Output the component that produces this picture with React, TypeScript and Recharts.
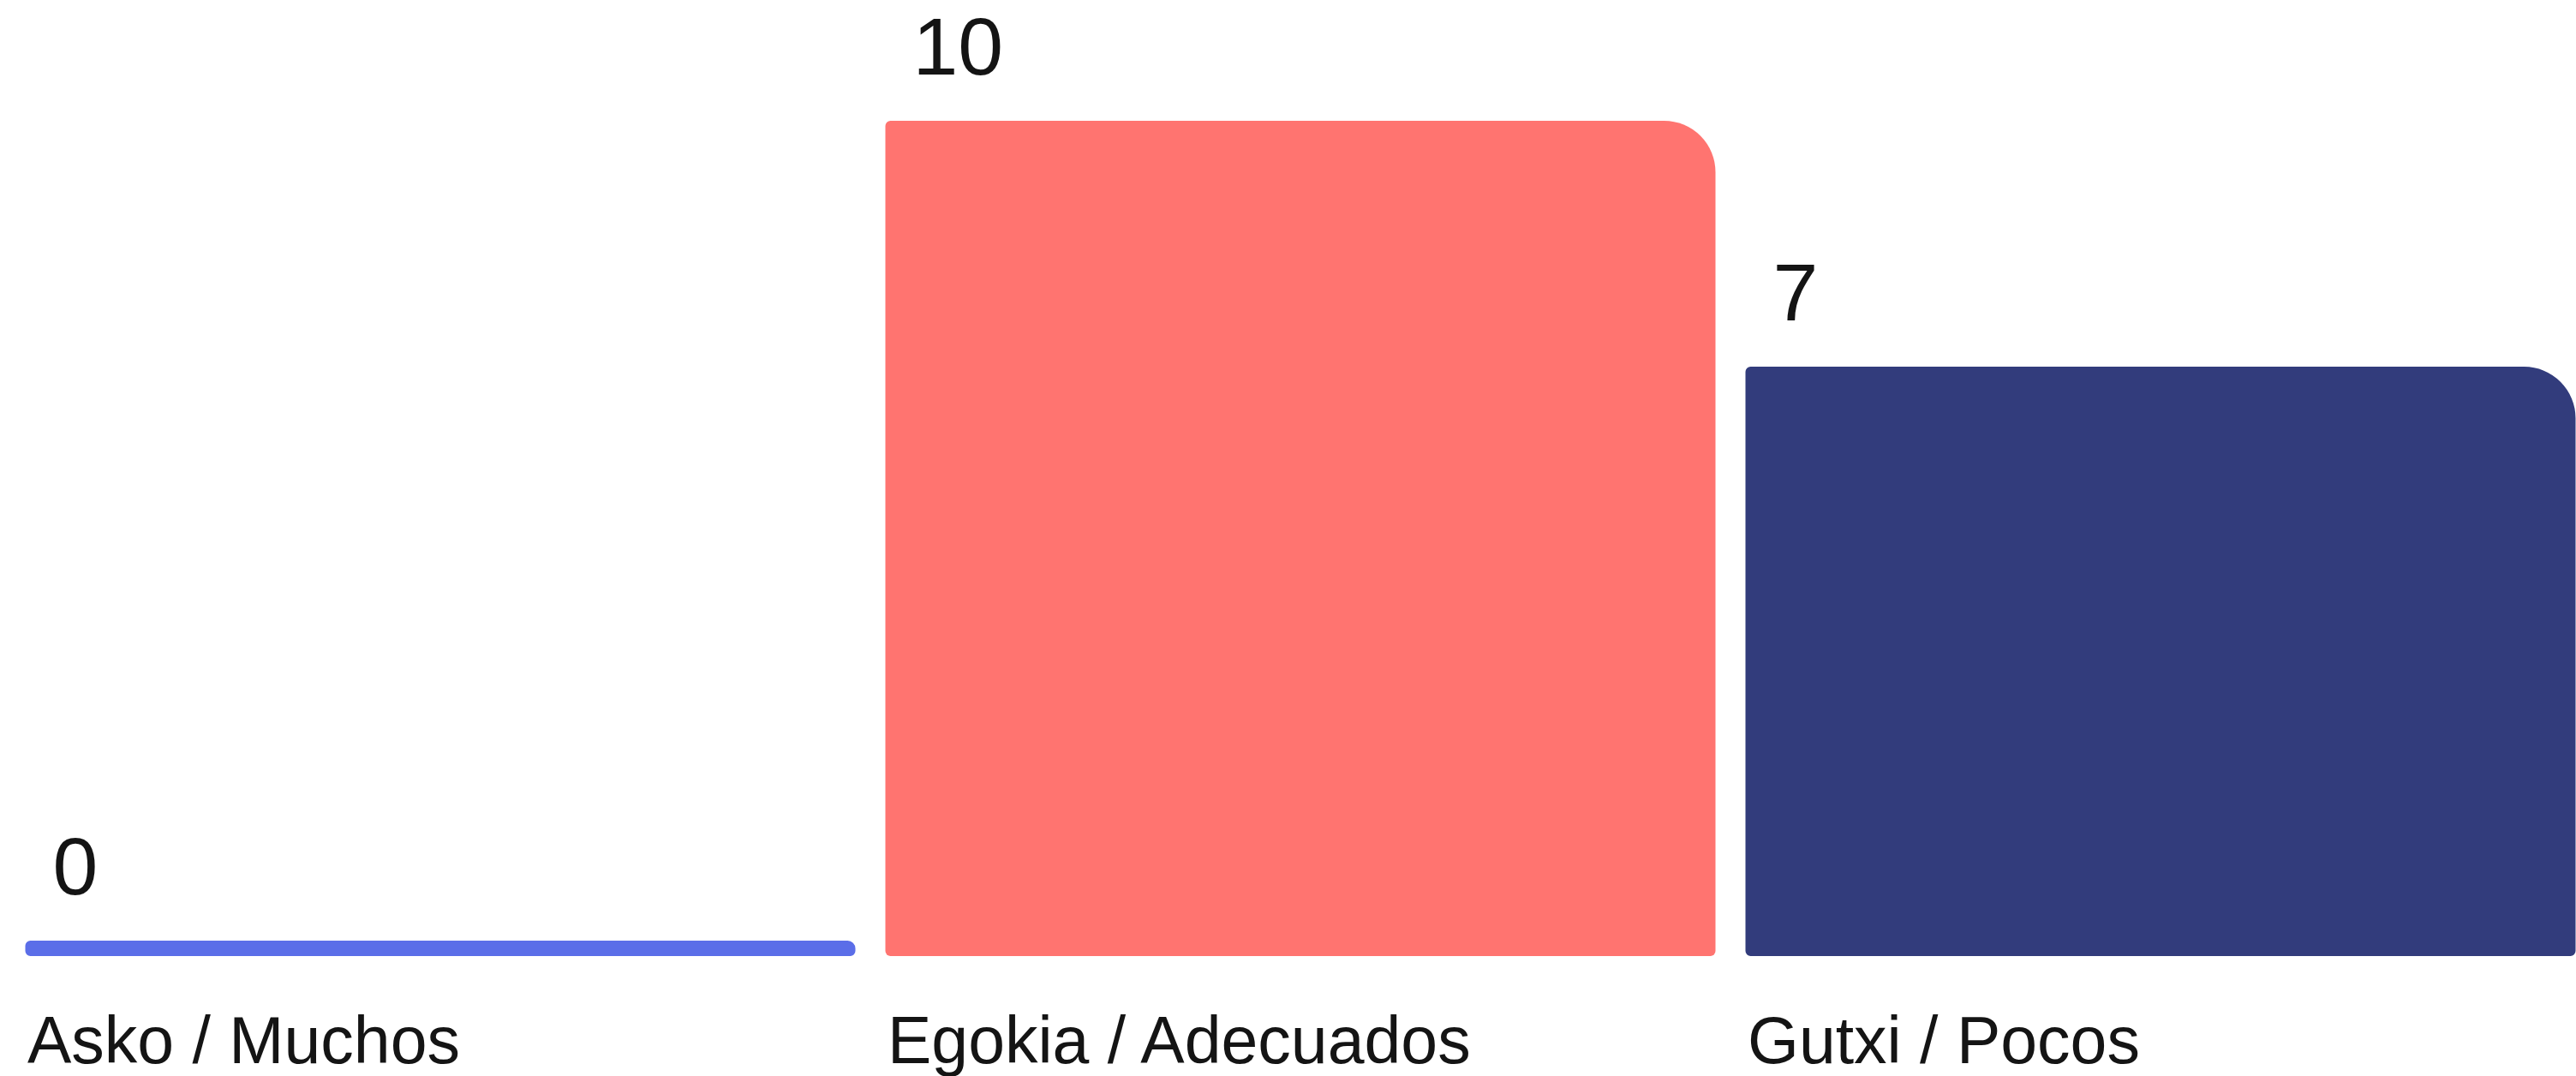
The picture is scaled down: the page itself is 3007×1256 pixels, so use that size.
import React from 'react';
import { BarChart, Bar, XAxis, YAxis, Cell, LabelList, Rectangle } from 'recharts';

const categories = ['Asko / Muchos', 'Egokia / Adecuados', 'Gutxi / Pocos'];
const values = [0, 10, 7];
const colors = ['#5B6EE8', '#FF7470', '#323C7C'];

const data = categories.map((name, i) => ({ name, value: values[i] }));

const CHART_W = 3024;
const CHART_H = 1256;
const XAXIS_H = 140;
const PLOT_BOTTOM = CHART_H - XAXIS_H;
const BAR_W = 969;
const FONT = '"Liberation Sans", Arial, sans-serif';

// bars run down to the bottom edge, so zero still shows a thin strip
const BarShape = (p: any) => (
    <Rectangle
        x={p.x}
        y={p.y}
        width={p.width}
        height={PLOT_BOTTOM - p.y}
        fill={p.fill}
        radius={[6, 60, 6, 6]}
    />
);

const CategoryTick = ({ x, y, payload }: any) => (
    <text
        x={x - BAR_W / 2 + 3}
        y={y + 125}
        textAnchor="start"
        fontFamily={FONT}
        fontSize={77}
        fill="#141414"
    >
        {payload.value}
    </text>
);

const ValueLabel = ({ x, y, value }: any) => (
    <text x={x + 32} y={y - 54} fontFamily={FONT} fontSize={95} fill="#141414">
        {value}
    </text>
);

export default function App() {
    return (
        <div style={{ position: 'fixed', inset: 0, overflow: 'hidden', background: '#fff' }}>
            <BarChart
                width={CHART_W}
                height={CHART_H}
                data={data}
                margin={{ top: 141, right: 0.5, left: 11.5, bottom: 0 }}
                style={{ overflow: 'visible' }}
            >
                <XAxis
                    dataKey="name"
                    axisLine={false}
                    tickLine={false}
                    tickSize={0}
                    tickMargin={0}
                    height={XAXIS_H}
                    interval={0}
                    tick={<CategoryTick />}
                />
                <YAxis hide type="number" domain={[-0.188, 10]} allowDataOverflow />
                <Bar dataKey="value" barSize={BAR_W} shape={BarShape} isAnimationActive={false}>
                    {data.map((d, i) => (
                        <Cell key={d.name} fill={colors[i]} />
                    ))}
                    <LabelList dataKey="value" content={<ValueLabel />} />
                </Bar>
            </BarChart>
        </div>
    );
}
